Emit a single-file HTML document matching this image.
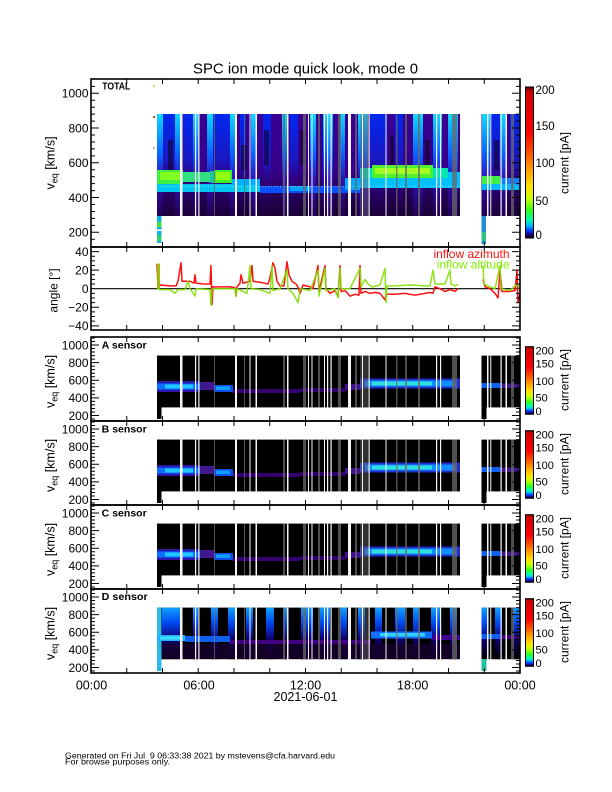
<!DOCTYPE html>
<html><head><meta charset="utf-8">
<style>
html,body{margin:0;padding:0;background:#fff;}
svg{display:block;}
text{font-family:"Liberation Sans",Arial,sans-serif;fill:#000;}
</style></head>
<body>
<svg width="612" height="792" viewBox="0 0 612 792" xmlns="http://www.w3.org/2000/svg">
<defs>
 <linearGradient id="cb" x1="0" y1="0" x2="0" y2="1">
  <stop offset="0" stop-color="#500000"/><stop offset="0.03" stop-color="#d00000"/>
  <stop offset="0.3" stop-color="#ff0000"/><stop offset="0.45" stop-color="#ff5a00"/>
  <stop offset="0.55" stop-color="#ffa000"/><stop offset="0.66" stop-color="#ffe000"/>
  <stop offset="0.74" stop-color="#c8ff00"/><stop offset="0.82" stop-color="#30ff20"/>
  <stop offset="0.88" stop-color="#00ffb0"/><stop offset="0.92" stop-color="#00b0ff"/>
  <stop offset="0.955" stop-color="#0030ff"/><stop offset="0.98" stop-color="#200070"/>
  <stop offset="1" stop-color="#000000"/>
 </linearGradient>
 <linearGradient id="tbase" gradientUnits="userSpaceOnUse" x1="0" y1="114" x2="0" y2="216">
  <stop offset="0" stop-color="#3a0092"/><stop offset="0.55" stop-color="#36008a"/>
  <stop offset="0.72" stop-color="#280062"/><stop offset="1" stop-color="#1a0034"/>
 </linearGradient>
 <linearGradient id="tcy" gradientUnits="userSpaceOnUse" x1="0" y1="114" x2="0" y2="216">
  <stop offset="0" stop-color="#10d8ff"/><stop offset="0.4" stop-color="#0a60ff"/>
  <stop offset="0.65" stop-color="#3010b0"/><stop offset="1" stop-color="#220050"/>
 </linearGradient>
 <linearGradient id="tbl" gradientUnits="userSpaceOnUse" x1="0" y1="114" x2="0" y2="216">
  <stop offset="0" stop-color="#0028f0"/><stop offset="0.45" stop-color="#1a18c0"/>
  <stop offset="0.65" stop-color="#300080"/><stop offset="1" stop-color="#1a0038"/>
 </linearGradient>
 <linearGradient id="dcol" x1="0" y1="0" x2="0" y2="1">
  <stop offset="0" stop-color="#10a0ff"/><stop offset="0.3" stop-color="#0048f0"/>
  <stop offset="0.6" stop-color="#100070"/><stop offset="1" stop-color="#000000"/>
 </linearGradient>

 <!-- sensor frame: ticks, border, colorbar (relative to panel top) -->
 <g id="sframe">
  <rect x="91" y="0" width="429" height="84" fill="none" stroke="#000" stroke-width="1.6"/>
  <path stroke="#000" stroke-width="1" fill="none" d="M91 0.95h4M91 4.48h4M91 11.53h4M91 15.05h4M91 18.58h4M91 22.1h4M91 29.15h4M91 32.68h4M91 36.2h4M91 39.73h4M91 46.78h4M91 50.3h4M91 53.83h4M91 57.35h4M91 64.4h4M91 67.93h4M91 71.45h4M91 74.98h4M91 82.03h4
  M520 0.95h-4M520 4.48h-4M520 11.53h-4M520 15.05h-4M520 18.58h-4M520 22.1h-4M520 29.15h-4M520 32.68h-4M520 36.2h-4M520 39.73h-4M520 46.78h-4M520 50.3h-4M520 53.83h-4M520 57.35h-4M520 64.4h-4M520 67.93h-4M520 71.45h-4M520 74.98h-4M520 82.03h-4
  M91 8h8M91 25.63h8M91 43.25h8M91 60.88h8M91 78.5h8M520 8h-8M520 25.63h-8M520 43.25h-8M520 60.88h-8M520 78.5h-8
  M126.75 0v5M162.5 0v5M198.25 0v5M234 0v5M269.75 0v5M305.5 0v5M341.25 0v5M377 0v5M412.75 0v5M448.5 0v5M484.25 0v5
  M126.75 84v-5M162.5 84v-5M198.25 84v-5M234 84v-5M269.75 84v-5M305.5 84v-5M341.25 84v-5M377 84v-5M412.75 84v-5M448.5 84v-5M484.25 84v-5"/>
  <rect x="525.5" y="9.7" width="8" height="67.6" fill="url(#cb)" stroke="#000" stroke-width="1"/>
 </g>

 <!-- white/gray gap stripes (relative) -->
 <g id="gaps">
  <g fill="#6a6a6a" fill-opacity="0.75">
   <rect x="214" y="18.6" width="1" height="51.8"/><rect x="244" y="18.6" width="1" height="51.8"/>
   <rect x="283" y="18.6" width="2" height="51.8"/><rect x="303" y="18.6" width="3" height="51.8"/>
   <rect x="318" y="18.6" width="2" height="51.8"/><rect x="338" y="18.6" width="3" height="51.8"/>
   <rect x="355" y="18.6" width="2" height="51.8"/><rect x="360" y="18.6" width="8" height="51.8" fill-opacity="0.45"/>
   <rect x="396" y="18.6" width="1.5" height="51.8"/><rect x="405" y="18.6" width="2" height="51.8"/>
   <rect x="418" y="18.6" width="2" height="51.8"/><rect x="452" y="18.6" width="5" height="51.8"/>
   <rect x="511" y="18.6" width="3" height="51.8"/>
  </g>
  <g fill="#f4f4f4">
   <rect x="180" y="18.6" width="2.5" height="51.8"/><rect x="195" y="18.6" width="1.2" height="51.8"/>
   <rect x="198.3" y="18.6" width="1.2" height="51.8"/><rect x="235" y="18.6" width="2" height="51.8"/>
   <rect x="249.5" y="18.6" width="1" height="51.8"/><rect x="255.5" y="18.6" width="1.5" height="51.8"/>
   <rect x="287" y="18.6" width="1.5" height="51.8"/><rect x="308" y="18.6" width="1" height="51.8"/>
   <rect x="311.5" y="18.6" width="1" height="51.8"/><rect x="324" y="18.6" width="1" height="51.8"/>
   <rect x="327" y="18.6" width="1.2" height="51.8"/><rect x="330.5" y="18.6" width="1.2" height="51.8"/>
   <rect x="348" y="18.6" width="3" height="51.8"/><rect x="362" y="18.6" width="1" height="51.8"/>
   <rect x="368.5" y="18.6" width="1.2" height="51.8"/><rect x="385.5" y="18.6" width="1" height="51.8"/>
   <rect x="436" y="18.6" width="1.2" height="51.8"/><rect x="440" y="18.6" width="1.2" height="51.8"/>
   <rect x="487" y="18.6" width="1.5" height="51.8"/><rect x="490.3" y="18.6" width="1" height="51.8"/>
   <rect x="500.5" y="18.6" width="1.2" height="51.8"/><rect x="505.5" y="18.6" width="1.5" height="51.8"/>
  </g>
 </g>

 <!-- A/B/C spectrogram (relative) -->
 <g id="sabc">
  <rect x="157" y="18.6" width="303" height="51.8" fill="#000"/>
  <rect x="157" y="18.6" width="4.5" height="63.4" fill="#000"/>
  <rect x="481.5" y="18.6" width="38.5" height="51.8" fill="#000"/>
  <rect x="481.5" y="70" width="5" height="12" fill="#000"/>
  <rect x="157" y="44" width="43" height="11" fill="#2818b0"/>
  <rect x="157" y="46.5" width="43" height="6" fill="#0a70ff"/>
  <rect x="165" y="47.5" width="28" height="4" fill="#20c8ff"/>
  <rect x="200" y="45" width="14" height="8" fill="#401890"/>
  <rect x="214" y="48" width="19" height="7" fill="#1050e8"/>
  <rect x="216" y="49.5" width="14" height="3.5" fill="#10a0ff"/>
  <rect x="233" y="52" width="67" height="4" fill="#350070"/>
  <rect x="300" y="51" width="45" height="4" fill="#300068"/>
  <rect x="345" y="47" width="15" height="6" fill="#401090"/>
  <rect x="360" y="41.5" width="100" height="10" fill="#2030d0"/>
  <rect x="365" y="43.5" width="90" height="6" fill="#1090ff"/>
  <rect x="372" y="44.5" width="60" height="4" fill="#30e0e0"/>
  <rect x="481.5" y="46" width="19" height="5" fill="#1060f0"/>
  <rect x="500" y="46.5" width="20" height="4.5" fill="#401890"/>
  <use href="#gaps"/>
 </g>

 <!-- D spectrogram (relative) -->
 <g id="sd">
  <rect x="157" y="18.6" width="303" height="51.6" fill="#000"/>
  <rect x="481.5" y="18.6" width="38.5" height="51.6" fill="#000"/>
  <g fill="url(#dcol)">
   <rect x="162" y="18.6" width="11" height="51.6"/><rect x="173" y="18.6" width="7" height="51.6"/>
   <rect x="193" y="18.6" width="5" height="51.6"/><rect x="211" y="18.6" width="7" height="51.6"/>
   <rect x="228" y="18.6" width="9" height="51.6"/><rect x="246" y="18.6" width="7" height="51.6"/>
   <rect x="266" y="18.6" width="8" height="51.6"/><rect x="283" y="18.6" width="4" height="51.6"/>
   <rect x="301" y="18.6" width="12" height="51.6"/><rect x="320" y="18.6" width="10" height="51.6"/>
   <rect x="340" y="18.6" width="7" height="51.6"/><rect x="358" y="18.6" width="7" height="51.6"/>
   <rect x="375" y="18.6" width="7" height="51.6"/><rect x="395" y="18.6" width="10" height="51.6"/>
   <rect x="413" y="18.6" width="7" height="51.6"/><rect x="431" y="18.6" width="9" height="51.6"/>
   <rect x="450" y="18.6" width="7" height="51.6"/><rect x="481.5" y="18.6" width="6" height="51.6"/>
   <rect x="495" y="18.6" width="7" height="51.6"/><rect x="513" y="18.6" width="7" height="51.6"/>
  </g>
  <rect x="157" y="55" width="303" height="15" fill="#1a0035" fill-opacity="0.7"/>
  <rect x="157" y="18.6" width="4.5" height="63.4" fill="#30b8e8"/>
  <rect x="481.5" y="70" width="5" height="12" fill="#20c0a0"/>
  <rect x="157" y="46" width="28" height="6" fill="#20b0ff"/>
  <rect x="160" y="47.5" width="22" height="3" fill="#40e0ff"/>
  <rect x="185" y="47" width="45" height="6" fill="#1060f0"/>
  <rect x="230" y="51" width="141" height="4" fill="#400080"/>
  <rect x="371" y="42.5" width="61" height="7" fill="#1070ff"/>
  <rect x="380" y="44" width="45" height="3.5" fill="#30d0ff"/>
  <rect x="432" y="46" width="28" height="5" fill="#400090"/>
  <rect x="481.5" y="45" width="19" height="5" fill="#1060f0"/>
  <rect x="500" y="46" width="20" height="4" fill="#400080"/>
  <use href="#gaps"/>
 </g>
</defs>

<!-- Title -->
<text x="305.5" y="73.3" text-anchor="middle" font-size="15" textLength="225" lengthAdjust="spacingAndGlyphs">SPC ion mode quick look, mode 0</text>

<!-- ========== TOTAL panel ========== -->
<rect x="157" y="114" width="303" height="102" fill="url(#tbase)"/>
<rect x="481.5" y="114" width="38.5" height="102" fill="url(#tbase)"/>
<g>
 <rect x="157" y="114" width="6" height="102" fill="url(#tcy)"/>
 <rect x="163" y="114" width="12" height="102" fill="url(#tbl)"/>
 <rect x="175" y="114" width="5" height="102" fill="url(#tcy)"/>
 <rect x="183" y="114" width="10" height="102" fill="url(#tbl)"/>
 <rect x="193" y="114" width="6" height="102" fill="url(#tcy)"/>
 <rect x="207" y="114" width="6" height="102" fill="url(#tcy)"/>
 <rect x="213" y="114" width="17" height="102" fill="url(#tbl)"/>
 <rect x="230" y="114" width="5" height="102" fill="url(#tcy)"/>
 <rect x="240" y="114" width="6" height="102" fill="url(#tbl)"/>
 <rect x="251" y="114" width="5" height="102" fill="url(#tcy)"/>
 <rect x="263" y="114" width="8" height="102" fill="url(#tbl)"/>
 <rect x="282" y="114" width="5" height="102" fill="url(#tcy)"/>
 <rect x="290" y="114" width="8" height="102" fill="url(#tbl)"/>
 <rect x="310" y="114" width="6" height="102" fill="url(#tcy)"/>
 <rect x="323" y="114" width="10" height="102" fill="url(#tcy)"/>
 <rect x="340" y="114" width="5" height="102" fill="url(#tcy)"/>
 <rect x="358" y="114" width="10" height="102" fill="url(#tcy)"/>
 <rect x="370" y="114" width="17" height="102" fill="url(#tbl)"/>
 <rect x="395" y="114" width="8" height="102" fill="url(#tbl)"/>
 <rect x="413" y="114" width="10" height="102" fill="url(#tcy)"/>
 <rect x="433" y="114" width="9" height="102" fill="url(#tcy)"/>
 <rect x="448" y="114" width="10" height="102" fill="url(#tcy)"/>
 <rect x="482" y="114" width="8" height="102" fill="url(#tcy)"/>
 <rect x="490" y="114" width="10" height="102" fill="url(#tbl)"/>
 <rect x="500" y="114" width="7" height="102" fill="url(#tcy)"/>
 <rect x="510" y="114" width="10" height="102" fill="url(#tbl)"/>
</g>
<g fill="#10001c" fill-opacity="0.55">
 <rect x="168" y="140" width="5" height="30"/><rect x="241" y="145" width="6" height="25"/>
 <rect x="264" y="130" width="5" height="35"/><rect x="300" y="130" width="5" height="35"/>
 <rect x="390" y="135" width="4" height="30"/><rect x="425" y="140" width="5" height="25"/>
 <rect x="494" y="140" width="5" height="30"/>
</g>
<!-- bands -->
<rect x="157" y="170" width="26" height="14" fill="#40f040"/>
<rect x="160" y="172" width="20" height="8" fill="#80ff20"/>
<rect x="183" y="172" width="27" height="10" fill="#30e080"/>
<rect x="210" y="171" width="4" height="12" fill="#20c0a0"/>
<rect x="214" y="170" width="18" height="13" fill="#40f030"/>
<rect x="216" y="172" width="14" height="8" fill="#90ff10"/>
<rect x="157" y="184" width="103" height="8" fill="#00c8f0"/>
<rect x="232" y="179" width="28" height="6" fill="#00b0ff"/>
<rect x="260" y="186" width="100" height="7" fill="#0a50ff"/>
<rect x="290" y="186" width="20" height="5" fill="#00a0ff"/>
<rect x="345" y="178" width="15" height="12" fill="#00a8ff"/>
<rect x="360" y="168" width="12" height="12" fill="#00e0c0"/>
<rect x="372" y="165" width="61" height="13" fill="#50f030"/>
<rect x="375" y="168" width="55" height="6" fill="#a0ff20"/>
<rect x="433" y="168" width="15" height="12" fill="#00e8b0"/>
<rect x="448" y="172" width="12" height="10" fill="#00c0ff"/>
<rect x="360" y="178" width="100" height="10" fill="#00c0ff"/>
<rect x="482" y="176" width="18" height="8" fill="#40f040"/>
<rect x="482" y="184" width="38" height="6" fill="#00b8ff"/>
<rect x="500" y="178" width="20" height="6" fill="#1080ff"/>
<line x1="157" y1="186.5" x2="460" y2="186.5" stroke="#fff" stroke-opacity="0.5" stroke-dasharray="1 2"/>
<!-- gaps in TOTAL (scaled from relative gaps: y 18.6..70.4 -> 114..216) -->
<g transform="translate(0,114) scale(1,1.969) translate(0,-18.6)">
 <use href="#gaps"/>
</g>
<!-- left bars -->
<rect x="157" y="216" width="4.5" height="27" fill="#10b0e0"/>
<rect x="157" y="222" width="4.5" height="5" fill="#40e040"/>
<rect x="157" y="235" width="4.5" height="6" fill="#30d070"/>
<rect x="157" y="229.5" width="4.5" height="1.5" fill="#fff"/>
<rect x="481.5" y="216" width="4.5" height="28" fill="#2090d0"/>
<rect x="481.5" y="232" width="4.5" height="9" fill="#30c080"/>
<rect x="153" y="85" width="2" height="2" fill="#a0ff40"/>
<rect x="153" y="116" width="2" height="2" fill="#707040"/>
<rect x="153" y="147" width="1.5" height="1.5" fill="#808080"/>

<!-- TOTAL frame & ticks -->
<rect x="91" y="79" width="429" height="168" fill="none" stroke="#000" stroke-width="1.6"/>
<path stroke="#000" stroke-width="1" fill="none" d="M91 86.35h4M91 100.25h4M91 107.2h4M91 114.15h4M91 121.1h4M91 135h4M91 141.95h4M91 148.9h4M91 155.85h4M91 169.75h4M91 176.7h4M91 183.65h4M91 190.6h4M91 204.5h4M91 211.45h4M91 218.4h4M91 225.35h4M91 239.25h4
M520 86.35h-4M520 100.25h-4M520 107.2h-4M520 114.15h-4M520 121.1h-4M520 135h-4M520 141.95h-4M520 148.9h-4M520 155.85h-4M520 169.75h-4M520 176.7h-4M520 183.65h-4M520 190.6h-4M520 204.5h-4M520 211.45h-4M520 218.4h-4M520 225.35h-4M520 239.25h-4
M91 93.3h8M91 128.05h8M91 162.8h8M91 197.55h8M91 232.3h8M520 93.3h-8M520 128.05h-8M520 162.8h-8M520 197.55h-8M520 232.3h-8
M126.75 79v5M162.5 79v5M198.25 79v5M234 79v5M269.75 79v5M305.5 79v5M341.25 79v5M377 79v5M412.75 79v5M448.5 79v5M484.25 79v5
M126.75 247v-5M162.5 247v-5M198.25 247v-5M234 247v-5M269.75 247v-5M305.5 247v-5M341.25 247v-5M377 247v-5M412.75 247v-5M448.5 247v-5M484.25 247v-5"/>
<text x="102.3" y="89.5" font-size="10" font-weight="bold" textLength="28" lengthAdjust="spacingAndGlyphs">TOTAL</text>
<g font-size="12" text-anchor="end">
 <text x="88.5" y="97.6">1000</text><text x="88.5" y="132.3">800</text>
 <text x="88.5" y="167.1">600</text><text x="88.5" y="201.8">400</text>
 <text x="88.5" y="236.6">200</text>
</g>
<text transform="translate(54.5,163) rotate(-90)" text-anchor="middle" font-size="12.5">v<tspan font-size="9" dy="3">eq</tspan><tspan dy="-3"> [km/s]</tspan></text>
<rect x="525.5" y="87" width="8" height="151" fill="url(#cb)" stroke="#000" stroke-width="1"/>
<g font-size="11.5">
 <text x="535.5" y="94.2">200</text><text x="535.5" y="130.2">150</text>
 <text x="535.5" y="167.2">100</text><text x="535.5" y="205.2">50</text>
 <text x="535.5" y="239.2">0</text>
</g>
<text transform="translate(568.5,163) rotate(-90)" text-anchor="middle" font-size="12">current [pA]</text>

<!-- ========== ANGLE panel ========== -->
<line x1="91" y1="288.7" x2="520" y2="288.7" stroke="#000" stroke-width="1.2"/>
<g transform="translate(0,288.7) scale(1,-0.928)" fill="none" stroke-linejoin="round">
 <g stroke="#ff1010" stroke-width="1.5" vector-effect="non-scaling-stroke">
  <polyline vector-effect="non-scaling-stroke" points="157,27 158,3 160,4 170,3 176,3 178,8 181,28 182,8 190,8 194,6 195,15 196,6 205,5 210,5 211,25 212,-17 213,2 230,2 235,1 236,-8 237,2 240,6 241,15 243,6 250,8 252,25 253,8 260,7 268,5 270,12 273,28 275,22 277,8 280,3 284,3 287,29 289,15 292,8 296,5 298,2 300,-5 303,4 310,2 313,0 318,25 319,-3 325,25 326,0 330,-5 335,-2 338,-8 340,25 341,-3 345,-2 350,-8 355,-6 359,-7 360,25 361,-5 365,-3 370,-5 375,-4 380,-5 385,-12 386,-6 395,-6 405,-5 415,-7 425,-5 430,-4 433,-5 435,2 440,0 445,-3 450,-1 453,-2 455,-3 458,0"/>
  <polyline vector-effect="non-scaling-stroke" points="483,10 485,2 490,0 495,-5 498,-10 500,20 502,-3 510,-3 515,-2 517,20 518,-15 520,-5"/>
 </g>
 <g stroke="#80e000" stroke-width="1.5" stroke-opacity="0.9">
  <polyline vector-effect="non-scaling-stroke" points="157,0 160,-1 170,-1 175,-5 178,-1 185,-1 188,8 190,0 195,-8 196,0 210,-1 211,-18 212,0 235,0 236,-8 237,0 247,-5 250,25 251,0 260,-1 270,-5 272,25 273,-2 280,0 287,20 288,0 293,-5 298,-15 300,0 310,-2 318,20 319,-8 325,22 326,-2 335,0 338,-10 340,22 341,0 350,0 360,22 361,2 365,10 368,5 372,2 380,4 385,22 386,-15 387,3 395,3 410,4 425,3 430,3 433,20 435,5 445,5 450,20 451,5 455,3 458,5"/>
  <polyline vector-effect="non-scaling-stroke" points="483,25 484,5 490,2 495,0 500,25 501,0 510,-2 517,5 520,0"/>
  <line vector-effect="non-scaling-stroke" x1="158.5" y1="0" x2="158.5" y2="27" stroke="#90c000" stroke-width="3"/>
 </g>
</g>
<rect x="91" y="247" width="429" height="83" fill="none" stroke="#000" stroke-width="1.6"/>
<path stroke="#000" stroke-width="1" fill="none" d="M91 256.22h4M91 260.86h4M91 265.5h4M91 274.78h4M91 279.42h4M91 284.06h4M91 293.34h4M91 297.98h4M91 302.62h4M91 311.9h4M91 316.54h4M91 321.18h4
M520 256.22h-4M520 260.86h-4M520 265.5h-4M520 274.78h-4M520 279.42h-4M520 284.06h-4M520 293.34h-4M520 297.98h-4M520 302.62h-4M520 311.9h-4M520 316.54h-4M520 321.18h-4
M91 251.58h8M91 270.14h8M91 307.26h8M91 325.82h8M520 251.58h-8M520 270.14h-8M520 307.26h-8M520 325.82h-8
M126.75 247v5M162.5 247v5M198.25 247v5M234 247v5M269.75 247v5M305.5 247v5M341.25 247v5M377 247v5M412.75 247v5M448.5 247v5M484.25 247v5
M126.75 330v-5M162.5 330v-5M198.25 330v-5M234 330v-5M269.75 330v-5M305.5 330v-5M341.25 330v-5M377 330v-5M412.75 330v-5M448.5 330v-5M484.25 330v-5"/>
<g font-size="12" text-anchor="end">
 <text x="88.5" y="255.9">40</text><text x="88.5" y="274.4">20</text>
 <text x="88.5" y="293">0</text><text x="88.5" y="311.6">−20</text>
 <text x="88.5" y="330.1">−40</text>
</g>
<text transform="translate(57.5,290.5) rotate(-90)" text-anchor="middle" font-size="12">angle [°]</text>
<text x="509.5" y="257.8" text-anchor="end" font-size="12" style="fill:#ff1010">inflow azimuth</text>
<text x="509.5" y="268.5" text-anchor="end" font-size="12" style="fill:#80f000">inflow altitude</text>

<!-- ========== SENSOR panels ========== -->
<use href="#sabc" y="337"/>
<use href="#sabc" y="421"/>
<use href="#sabc" y="505"/>
<use href="#sd" y="589"/>
<use href="#sframe" y="337"/>
<use href="#sframe" y="421"/>
<use href="#sframe" y="505"/>
<use href="#sframe" y="589"/>

<g font-size="10.5" font-weight="bold">
 <text x="101.7" y="348.3" textLength="45" lengthAdjust="spacingAndGlyphs">A sensor</text>
 <text x="101.7" y="432.3" textLength="45" lengthAdjust="spacingAndGlyphs">B sensor</text>
 <text x="101.7" y="516.3" textLength="45" lengthAdjust="spacingAndGlyphs">C sensor</text>
 <text x="101.7" y="599.8" textLength="46" lengthAdjust="spacingAndGlyphs">D sensor</text>
</g>
<g font-size="12" text-anchor="end">
 <text x="88.5" y="349.3">1000</text><text x="88.5" y="366.9">800</text><text x="88.5" y="384.5">600</text><text x="88.5" y="402.2">400</text><text x="88.5" y="419.8">200</text>
 <text x="88.5" y="433.3">1000</text><text x="88.5" y="450.9">800</text><text x="88.5" y="468.5">600</text><text x="88.5" y="486.2">400</text><text x="88.5" y="503.8">200</text>
 <text x="88.5" y="517.3">1000</text><text x="88.5" y="534.9">800</text><text x="88.5" y="552.5">600</text><text x="88.5" y="570.2">400</text><text x="88.5" y="587.8">200</text>
 <text x="88.5" y="601.3">1000</text><text x="88.5" y="618.9">800</text><text x="88.5" y="636.5">600</text><text x="88.5" y="654.2">400</text><text x="88.5" y="671.8">200</text>
</g>
<g font-size="12.5" text-anchor="middle">
 <text transform="translate(54.5,381.5) rotate(-90)">v<tspan font-size="9" dy="3">eq</tspan><tspan dy="-3"> [km/s]</tspan></text>
 <text transform="translate(54.5,465.5) rotate(-90)">v<tspan font-size="9" dy="3">eq</tspan><tspan dy="-3"> [km/s]</tspan></text>
 <text transform="translate(54.5,549.5) rotate(-90)">v<tspan font-size="9" dy="3">eq</tspan><tspan dy="-3"> [km/s]</tspan></text>
 <text transform="translate(54.5,633.5) rotate(-90)">v<tspan font-size="9" dy="3">eq</tspan><tspan dy="-3"> [km/s]</tspan></text>
</g>
<g font-size="11">
 <text x="535.5" y="354.7">200</text><text x="535.5" y="367.3">150</text><text x="535.5" y="385">100</text><text x="535.5" y="401.7">50</text><text x="535.5" y="415">0</text>
 <text x="535.5" y="438.7">200</text><text x="535.5" y="451.3">150</text><text x="535.5" y="469">100</text><text x="535.5" y="485.7">50</text><text x="535.5" y="499">0</text>
 <text x="535.5" y="522.7">200</text><text x="535.5" y="535.3">150</text><text x="535.5" y="553">100</text><text x="535.5" y="569.7">50</text><text x="535.5" y="583">0</text>
 <text x="535.5" y="606.7">200</text><text x="535.5" y="619.3">150</text><text x="535.5" y="637">100</text><text x="535.5" y="653.7">50</text><text x="535.5" y="667">0</text>
</g>
<g font-size="12" text-anchor="middle">
 <text transform="translate(568.5,380) rotate(-90)">current [pA]</text>
 <text transform="translate(568.5,464) rotate(-90)">current [pA]</text>
 <text transform="translate(568.5,548) rotate(-90)">current [pA]</text>
 <text transform="translate(568.5,632) rotate(-90)">current [pA]</text>
</g>

<!-- time axis -->
<g font-size="12.5" text-anchor="middle">
 <text x="91.5" y="689.3">00:00</text>
 <text x="199" y="689.3">06:00</text>
 <text x="305.5" y="689.3">12:00</text>
 <text x="412.7" y="689.3">18:00</text>
 <text x="520" y="689.3">00:00</text>
 <text x="305.5" y="701">2021-06-01</text>
</g>

<!-- footer -->
<text x="65" y="758.3" font-size="8" style="white-space:pre" textLength="270" lengthAdjust="spacingAndGlyphs">Generated on Fri Jul  9 06:33:38 2021 by mstevens@cfa.harvard.edu</text>
<text x="65" y="764.6" font-size="8" textLength="105" lengthAdjust="spacingAndGlyphs">For browse purposes only.</text>
</svg>
</body></html>
